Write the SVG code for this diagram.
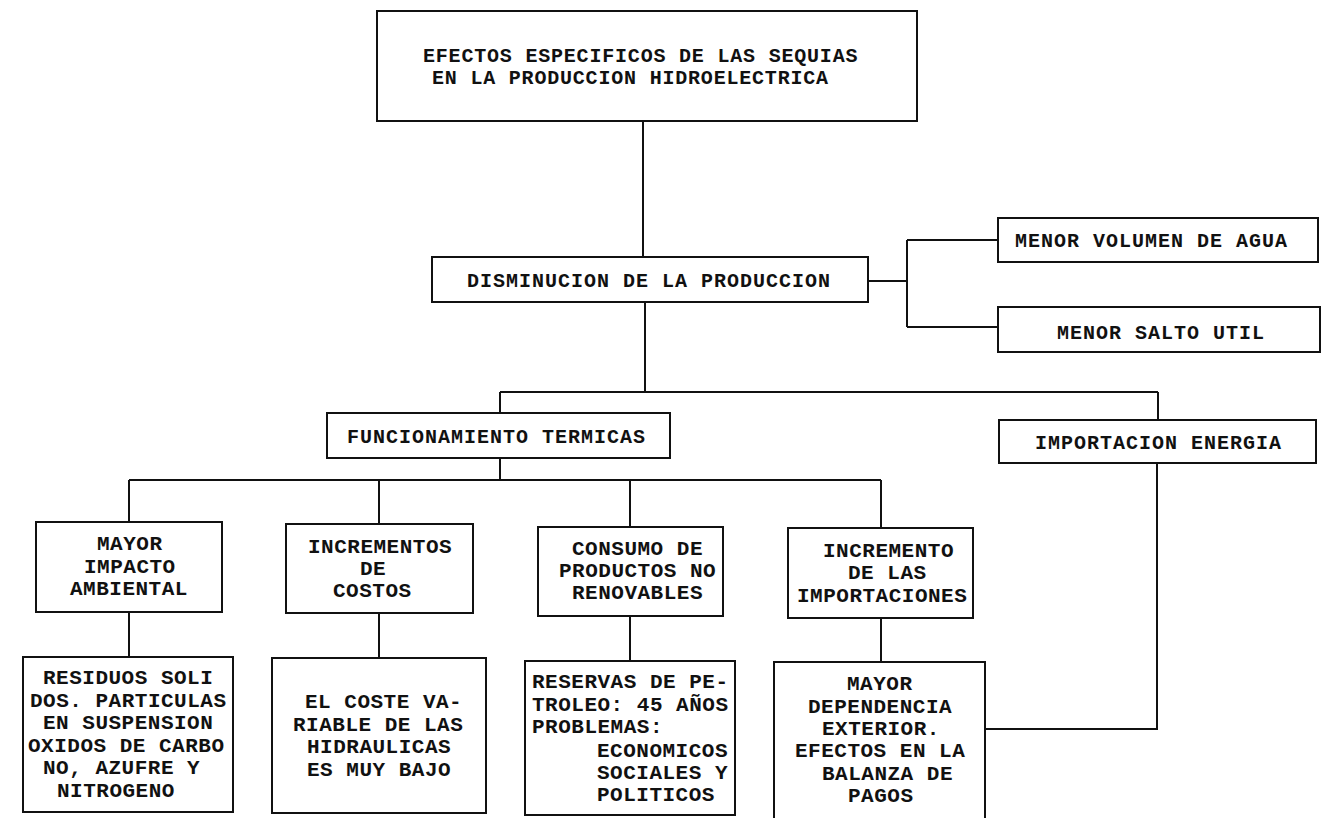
<svg xmlns="http://www.w3.org/2000/svg" width="1336" height="818" viewBox="0 0 1336 818">
<style>
rect{fill:#fff;stroke:#111;stroke-width:2}
#connectors path{fill:none;stroke:#111;stroke-width:2}
text{font-family:"Liberation Mono","Courier New",monospace;font-weight:bold;fill:#111}
.t1{font-size:20px;letter-spacing:0.8px}
.mid{font-size:20px;letter-spacing:1px}
.bx{font-size:21px;letter-spacing:0.5px}
</style>
<rect x="0" y="0" width="1336" height="818" style="fill:#fff;stroke:none"/>
<g id="connectors">
<path d="M643 121V257"/>
<path d="M868 281H907M907 240V327M907 240H998M907 327H998"/>
<path d="M645 302V392M500 392H1158M500 392V413M1158 392V420"/>
<path d="M500 458V480M129 480H881M129 480V522M379 480V524M630 480V527M881 480V528"/>
<path d="M129 612V657M379 613V658M630 616V661M881 618V662"/>
<path d="M1157 463V729H985"/>
</g>
<g id="n-top">
<rect x="377" y="11" width="540" height="110"/>
<text class="t1" x="423" y="62">EFECTOS ESPECIFICOS DE LAS SEQUIAS</text>
<text class="t1" x="432" y="84">EN LA PRODUCCION HIDROELECTRICA</text>
</g>
<g id="n-disminucion">
<rect x="432" y="257" width="436" height="45"/>
<text class="mid" x="467" y="287">DISMINUCION DE LA PRODUCCION</text>
</g>
<g id="n-volumen">
<rect x="998" y="218" width="320" height="44"/>
<text class="mid" x="1015" y="247">MENOR VOLUMEN DE AGUA</text>
</g>
<g id="n-salto">
<rect x="998" y="307" width="322" height="45"/>
<text class="mid" x="1057" y="339">MENOR SALTO UTIL</text>
</g>
<g id="n-termicas">
<rect x="327" y="413" width="343" height="45"/>
<text class="mid" x="347" y="443">FUNCIONAMIENTO TERMICAS</text>
</g>
<g id="n-importacion">
<rect x="999" y="420" width="317" height="43"/>
<text class="mid" x="1035" y="449">IMPORTACION ENERGIA</text>
</g>
<g id="n-impacto">
<rect x="36" y="522" width="186" height="90"/>
<text class="bx" x="97" y="550">MAYOR</text>
<text class="bx" x="84" y="573">IMPACTO</text>
<text class="bx" x="70" y="595">AMBIENTAL</text>
</g>
<g id="n-costos">
<rect x="286" y="524" width="187" height="89"/>
<text class="bx" x="308" y="553">INCREMENTOS</text>
<text class="bx" x="360" y="575">DE</text>
<text class="bx" x="333" y="597">COSTOS</text>
</g>
<g id="n-consumo">
<rect x="538" y="527" width="185" height="89"/>
<text class="bx" x="572" y="555">CONSUMO DE</text>
<text class="bx" x="559" y="577">PRODUCTOS NO</text>
<text class="bx" x="572" y="599">RENOVABLES</text>
</g>
<g id="n-incremento">
<rect x="788" y="528" width="185" height="90"/>
<text class="bx" x="823" y="557">INCREMENTO</text>
<text class="bx" x="848" y="579">DE LAS</text>
<text class="bx" x="797" y="602">IMPORTACIONES</text>
</g>
<g id="n-residuos">
<rect x="23" y="657" width="210" height="155"/>
<text class="bx" x="43" y="684">RESIDUOS SOLI</text>
<text class="bx" x="30" y="707">DOS. PARTICULAS</text>
<text class="bx" x="43" y="729">EN SUSPENSION</text>
<text class="bx" x="28" y="752">OXIDOS DE CARBO</text>
<text class="bx" x="43" y="774">NO, AZUFRE Y</text>
<text class="bx" x="57" y="797">NITROGENO</text>
</g>
<g id="n-coste">
<rect x="272" y="658" width="214" height="155"/>
<text class="bx" x="305" y="708">EL COSTE VA-</text>
<text class="bx" x="293" y="731">RIABLE DE LAS</text>
<text class="bx" x="307" y="753">HIDRAULICAS</text>
<text class="bx" x="307" y="776">ES MUY BAJO</text>
</g>
<g id="n-reservas">
<rect x="525" y="661" width="210" height="154"/>
<text class="bx" x="532" y="688">RESERVAS DE PE-</text>
<text class="bx" x="532" y="711">TROLEO: 45 AÑOS</text>
<text class="bx" x="532" y="733">PROBLEMAS:</text>
<text class="bx" x="597" y="757">ECONOMICOS</text>
<text class="bx" x="597" y="779">SOCIALES Y</text>
<text class="bx" x="597" y="801">POLITICOS</text>
</g>
<g id="n-dependencia">
<rect x="774" y="662" width="211" height="160"/>
<text class="bx" x="847" y="690">MAYOR</text>
<text class="bx" x="808" y="713">DEPENDENCIA</text>
<text class="bx" x="822" y="735">EXTERIOR.</text>
<text class="bx" x="795" y="757">EFECTOS EN LA</text>
<text class="bx" x="822" y="780">BALANZA DE</text>
<text class="bx" x="848" y="802">PAGOS</text>
</g>
</svg>
